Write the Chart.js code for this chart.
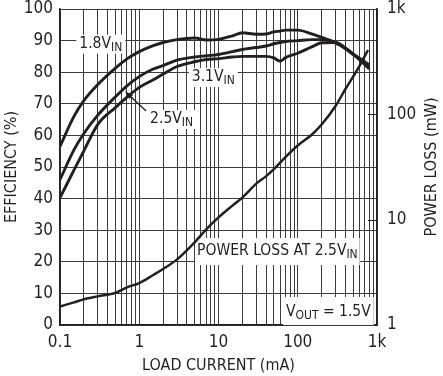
<!DOCTYPE html>
<html>
<head>
<meta charset="utf-8">
<script src="https://cdn.jsdelivr.net/npm/chart.js@4.4.0/dist/chart.umd.min.js"></script>
<style>
  html, body { margin: 0; padding: 0; background: #fff; }
  canvas { display: block; }
</style>
</head>
<body>
<canvas id="chart" width="443" height="376"></canvas>
<script>
// efficiency curves (load current in mA, efficiency in %)
const loadCurrent = [0.1, 0.15, 0.2, 0.3, 0.5, 0.7, 1, 1.5, 2, 3, 5, 7, 10, 15, 20, 30, 40, 50, 60, 70, 100, 150, 200, 300, 400, 500, 600, 800];
const eff18 = [56.5, 66, 71, 76.1, 81.3, 84.2, 86.5, 88.4, 89.4, 90.3, 90.8, 90.2, 90.4, 91.5, 92.5, 92.0, 92.1, 92.8, 93.0, 93.3, 93.3, 92.1, 91.0, 89.4, 87.5, 85.6, 84.0, 81.0];
const eff25 = [46, 55.4, 60.6, 66.4, 72.2, 75.7, 78.6, 81.0, 82.1, 83.8, 84.8, 85.2, 85.6, 86.5, 87.2, 87.8, 88.3, 89.0, 89.4, 89.7, 90.0, 90.3, 90.3, 89.2, 87.5, 85.7, 84.2, 81.8];
const eff31 = [40.3, 49, 55.1, 63.5, 68.8, 72.1, 75.2, 77.6, 79.4, 81.8, 83.3, 84.0, 84.3, 84.8, 85.0, 85.0, 85.0, 84.5, 83.5, 84.6, 86.0, 88.0, 89.3, 89.4, 87.7, 85.8, 84.4, 82.3];

// power loss at 2.5V in (mW)
const lossCurrent = [0.1, 0.15, 0.2, 0.3, 0.5, 0.7, 1, 1.5, 2, 3, 5, 7, 10, 15, 20, 30, 40, 50, 70, 100, 150, 200, 300, 400, 500, 600, 770];
const powerLoss = [1.5, 1.64, 1.75, 1.87, 2.02, 2.28, 2.5, 2.98, 3.4, 4.2, 6.1, 8.1, 10.5, 13.6, 16.2, 22, 25.9, 30.2, 39.3, 50.6, 64, 80, 120, 174, 228, 287, 408];

const xTickLabels = { 0.1: '0.1', 1: '1', 10: '10', 100: '100', 1000: '1k' };
const y1TickLabels = { 1: '1', 10: '10', 100: '100', 1000: '1k' };

const FONT = "'Liberation Sans Narrow', 'Arial Narrow', 'DejaVu Sans Condensed', sans-serif";
const INK = '#231f20';
const GRID = '#3c3c3c';

Chart.defaults.font.family = FONT;
Chart.defaults.font.size = 17;
Chart.defaults.color = INK;

const pts = (xs, ys) => xs.map((x, i) => ({ x: x, y: ys[i] }));

const line = (data, axis, width) => ({
  data: data,
  yAxisID: axis,
  borderColor: INK,
  borderWidth: width,
  pointRadius: 0,
  fill: false,
  cubicInterpolationMode: 'monotone'
});

// draws a label made of text pieces, some of them as subscripts
function drawLabel(ctx, parts, px, py, box) {
  const big = '15.5px ' + FONT;
  const small = '12px ' + FONT;
  let w = 0;
  parts.forEach(p => {
    ctx.font = p.sub ? small : big;
    w += ctx.measureText(p.t).width;
  });
  if (box) {
    ctx.fillStyle = '#fff';
    ctx.fillRect(px - box[0], py - box[1], w + box[0] * 2, box[1] + box[2]);
  }
  ctx.fillStyle = INK;
  ctx.textBaseline = 'middle';
  ctx.textAlign = 'left';
  let cx = px;
  parts.forEach(p => {
    ctx.font = p.sub ? small : big;
    ctx.fillText(p.t, cx, p.sub ? py + 4 : py);
    cx += ctx.measureText(p.t).width;
  });
}

// keep the plot box where the reference has it
const noEdgePad = (scale) => {
  scale.paddingTop = 0;
  scale.paddingBottom = 0;
  scale.paddingLeft = 0;
  scale.paddingRight = 0;
};

const overlay = {
  id: 'overlay',
  beforeDatasetsDraw(chart) {
    const { ctx, scales } = chart;
    const x = scales.x, y = scales.y, y1 = scales.y1;
    ctx.save();

    drawLabel(ctx, [{ t: '1.8V' }, { t: 'IN', sub: true }], x.getPixelForValue(0.175), y.getPixelForValue(89), [3, 9, 10]);
    drawLabel(ctx, [{ t: '3.1V' }, { t: 'IN', sub: true }], x.getPixelForValue(4.6), y.getPixelForValue(78.5), [3, 9, 10]);
    drawLabel(ctx, [{ t: '2.5V' }, { t: 'IN', sub: true }], x.getPixelForValue(1.37), y.getPixelForValue(65.2), [3, 9, 10]);
    drawLabel(ctx, [{ t: 'POWER LOSS AT 2.5V' }, { t: 'IN', sub: true }], x.getPixelForValue(5.36), y.getPixelForValue(23.4), [2, 13, 14]);
    drawLabel(ctx, [{ t: 'V' }, { t: 'OUT', sub: true }, { t: ' = 1.5V' }], x.getPixelForValue(71), y.getPixelForValue(4.1), [3, 15, 13]);

    // arrow to the 2.5V curve
    const ax0 = x.getPixelForValue(1.22), ay0 = y.getPixelForValue(67.7);
    const ax1 = x.getPixelForValue(0.66), ay1 = y.getPixelForValue(74);
    const ang = Math.atan2(ay1 - ay0, ax1 - ax0);
    ctx.strokeStyle = INK;
    ctx.lineWidth = 1.3;
    ctx.beginPath();
    ctx.moveTo(ax0, ay0);
    ctx.lineTo(ax1 - 6 * Math.cos(ang), ay1 - 6 * Math.sin(ang));
    ctx.stroke();
    ctx.fillStyle = INK;
    ctx.beginPath();
    ctx.moveTo(ax1, ay1);
    ctx.lineTo(ax1 - 9 * Math.cos(ang - 0.3), ay1 - 9 * Math.sin(ang - 0.3));
    ctx.lineTo(ax1 - 9 * Math.cos(ang + 0.3), ay1 - 9 * Math.sin(ang + 0.3));
    ctx.closePath();
    ctx.fill();

    // inward tick marks on the power loss axis
    ctx.lineWidth = 1;
    [10, 100].forEach(v => {
      const py = Math.round(y1.getPixelForValue(v)) + 0.5;
      ctx.beginPath();
      ctx.moveTo(chart.chartArea.right - 9, py);
      ctx.lineTo(chart.chartArea.right, py);
      ctx.stroke();
    });
    ctx.restore();
  },
  afterDraw(chart) {
    const { ctx, chartArea } = chart;
    ctx.save();
    ctx.translate(432, (chartArea.top + chartArea.bottom) / 2);
    ctx.rotate(-Math.PI / 2);
    ctx.font = '16px ' + FONT;
    ctx.fillStyle = INK;
    ctx.textAlign = 'center';
    ctx.textBaseline = 'middle';
    ctx.fillText('POWER LOSS (mW)', 0, 0);
    ctx.restore();
  }
};

new Chart(document.getElementById('chart'), {
  type: 'line',
  data: {
    datasets: [
      line(pts(loadCurrent, eff18), 'y', 2.9),
      line(pts(loadCurrent, eff25), 'y', 2.9),
      line(pts(loadCurrent, eff31), 'y', 2.9),
      line(pts(lossCurrent, powerLoss), 'y1', 2.5)
    ]
  },
  options: {
    responsive: false,
    devicePixelRatio: 1,
    animation: false,
    layout: { padding: { top: 9, left: 0, right: 0, bottom: 0 } },
    plugins: { legend: { display: false }, tooltip: { enabled: false } },
    scales: {
      x: {
        type: 'logarithmic',
        min: 0.1,
        max: 1000,
        afterBuildTicks: (scale) => {
          const t = [];
          [0.1, 1, 10, 100].forEach(d => {
            for (let m = 1; m < 10; m++) t.push({ value: +(d * m).toPrecision(3) });
          });
          t.push({ value: 1000 });
          scale.ticks = t;
        },
        afterFit: (scale) => { scale.height = 51; noEdgePad(scale); },
        ticks: {
          autoSkip: false,
          maxRotation: 0,
          padding: 7,
          callback: (v) => xTickLabels[v] || ''
        },
        grid: { color: GRID, lineWidth: 1, drawTicks: false },
        border: { color: INK, width: 1.5 },
        title: { display: true, text: 'LOAD CURRENT (mA)', font: { size: 16 }, padding: { top: 0, bottom: 1 } }
      },
      y: {
        position: 'left',
        min: 0,
        max: 100,
        ticks: { stepSize: 10, padding: 7 },
        afterFit: (scale) => { scale.width = 60; noEdgePad(scale); },
        grid: { color: GRID, lineWidth: 1, drawTicks: false },
        border: { color: INK, width: 1.5 },
        title: { display: true, text: 'EFFICIENCY (%)', font: { size: 16 }, padding: { top: 2, bottom: 0 } }
      },
      y1: {
        type: 'logarithmic',
        position: 'right',
        min: 1,
        max: 1000,
        afterBuildTicks: (scale) => {
          scale.ticks = [1, 10, 100, 1000].map(v => ({ value: v }));
        },
        afterFit: (scale) => { scale.width = 66; noEdgePad(scale); },
        ticks: { padding: 10, callback: (v) => y1TickLabels[v] || '' },
        grid: { drawOnChartArea: false, drawTicks: false },
        border: { color: INK, width: 1.5 }
      }
    }
  },
  plugins: [overlay]
});
</script>
</body>
</html>
